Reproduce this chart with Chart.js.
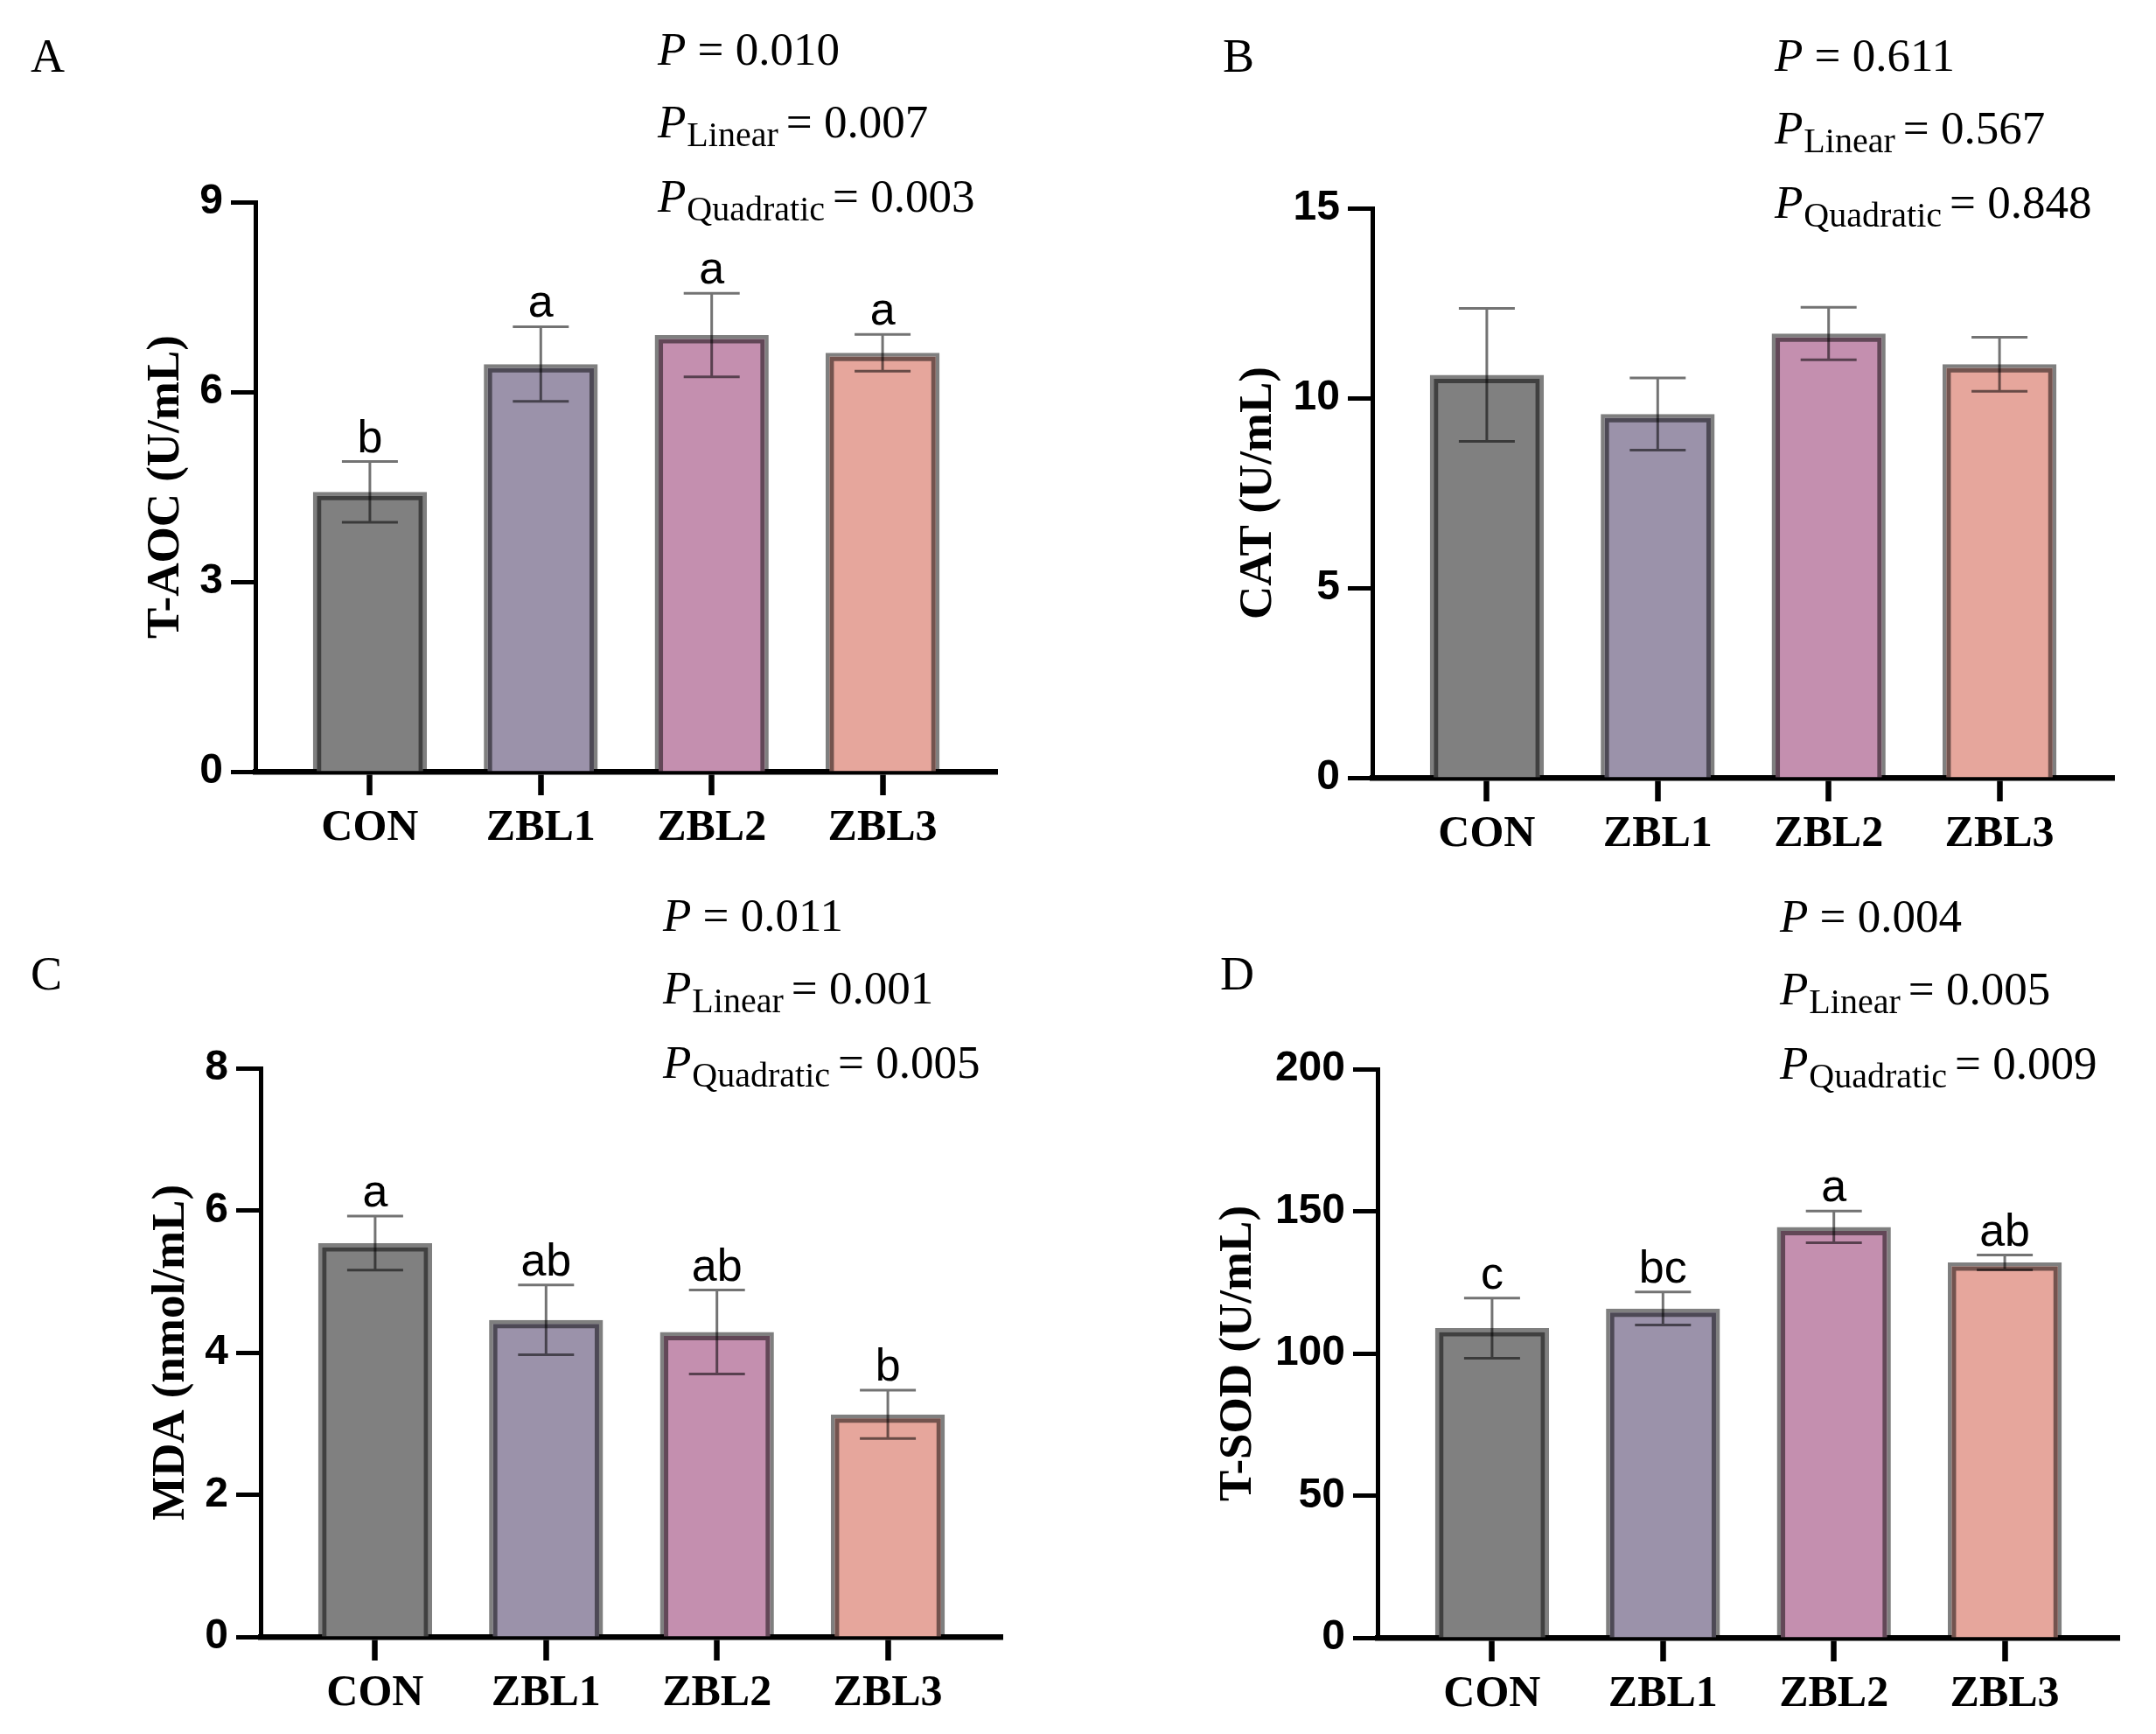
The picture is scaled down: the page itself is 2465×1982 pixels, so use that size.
<!DOCTYPE html>
<html>
<head>
<meta charset="utf-8">
<script src="https://cdn.jsdelivr.net/npm/chart.js@4.4.1/dist/chart.umd.min.js"></script>
<style>
  html, body { margin: 0; padding: 0; background: #fff; }
  #page { position: relative; width: 2465px; height: 1982px; overflow: hidden; background: #fff; }
  #page canvas { position: absolute; }
</style>
</head>
<body>
<div id="page">
  <canvas id="panelA" width="1232" height="991" style="left:0;top:0"></canvas>
  <canvas id="panelB" width="1233" height="991" style="left:1232px;top:0"></canvas>
  <canvas id="panelC" width="1232" height="991" style="left:0;top:991px"></canvas>
  <canvas id="panelD" width="1233" height="991" style="left:1232px;top:991px"></canvas>
</div>
<script>
// groups and bar fills
const groups = ['CON', 'ZBL1', 'ZBL2', 'ZBL3'];
const barColors = ['#808080', '#9b92aa', '#c48faf', '#e6a69c'];

// A - T-AOC
const tAoc = [4.42, 6.44, 6.90, 6.62];
const tAocSem = [0.48, 0.59, 0.66, 0.29];
const tAocLetters = ['b', 'a', 'a', 'a'];

// B - CAT
const cat = [10.61, 9.58, 11.70, 10.89];
const catSem = [1.75, 0.95, 0.69, 0.71];
const catLetters = ['', '', '', ''];

// C - MDA
const mda = [5.54, 4.46, 4.29, 3.13];
const mdaSem = [0.38, 0.49, 0.59, 0.34];
const mdaLetters = ['a', 'ab', 'ab', 'b'];

// D - T-SOD
const tSod = [108.9, 115.8, 144.5, 132.0];
const tSodSem = [10.6, 5.8, 5.6, 2.6];
const tSodLetters = ['c', 'bc', 'a', 'ab'];

// P values, panels A..D
const pOverall = ['0.010', '0.611', '0.011', '0.004'];
const pLinear = ['0.007', '0.567', '0.001', '0.005'];
const pQuadratic = ['0.003', '0.848', '0.005', '0.009'];

// y axes
const yTitles = ['T-AOC (U/mL)', 'CAT (U/mL)', 'MDA (nmol/mL)', 'T-SOD (U/mL)'];
const yMax = [9, 15, 8, 200];
const yStep = [3, 5, 2, 50];

const SERIF = '"Liberation Serif", "Times New Roman", serif';
const SANS = '"Liberation Sans", Arial, sans-serif';
const BAND = 'rgba(0,0,0,0.5)';

// inner dark edge of each bar, error bars, letters
const barDecor = {
  id: 'barDecor',
  afterDatasetsDraw(chart, args, opts) {
    const ctx = chart.ctx;
    const yScale = chart.scales.y;
    const meta = chart.getDatasetMeta(0);
    const values = chart.data.datasets[0].data;
    ctx.save();
    meta.data.forEach((bar, i) => {
      const {x, y, base, width} = bar.getProps(['x', 'y', 'base', 'width'], true);
      const l = x - width / 2, r = x + width / 2;
      const inset = 4.5 + 2.5;
      ctx.beginPath();
      ctx.moveTo(l + inset, base);
      ctx.lineTo(l + inset, y + inset);
      ctx.lineTo(r - inset, y + inset);
      ctx.lineTo(r - inset, base);
      ctx.lineWidth = 5;
      ctx.lineJoin = 'miter';
      ctx.strokeStyle = BAND;
      ctx.stroke();

      const v = values[i].y, e = opts.sem[i];
      const yHi = yScale.getPixelForValue(v + e);
      const yLo = yScale.getPixelForValue(v - e);
      ctx.beginPath();
      ctx.moveTo(x, yHi); ctx.lineTo(x, yLo);
      ctx.moveTo(x - 32, yHi); ctx.lineTo(x + 32, yHi);
      ctx.moveTo(x - 32, yLo); ctx.lineTo(x + 32, yLo);
      ctx.lineWidth = 3;
      ctx.lineCap = 'butt';
      ctx.strokeStyle = 'rgba(0,0,0,0.55)';
      ctx.stroke();

      if (opts.letters[i]) {
        ctx.fillStyle = '#000';
        ctx.font = `52px ${SANS}`;
        ctx.textAlign = 'center';
        ctx.textBaseline = 'alphabetic';
        ctx.fillText(opts.letters[i], x, yHi - 11);
      }
    });
    ctx.restore();
  }
};

// panel tag and the P value block
const panelText = {
  id: 'panelText',
  afterDraw(chart, args, opts) {
    const ctx = chart.ctx;
    const a = chart.chartArea;
    ctx.save();
    ctx.fillStyle = '#000';
    ctx.textAlign = 'left';
    ctx.textBaseline = 'alphabetic';
    ctx.font = `54px ${SERIF}`;
    ctx.fillText(opts.tag, opts.tagX, opts.tagY);

    const lines = [['', opts.p], ['Linear', opts.pLin], ['Quadratic', opts.pQuad]];
    const offs = [-157, -74, 11];
    lines.forEach(([sub, val], k) => {
      const yb = a.top + offs[k];
      let x = a.left + 460;
      ctx.font = `italic 53px ${SERIF}`;
      ctx.fillText('P', x, yb);
      x += ctx.measureText('P').width;
      if (sub) {
        ctx.font = `40px ${SERIF}`;
        ctx.fillText(sub, x + 1, yb + 10);
        x += ctx.measureText(sub).width + 10;
        ctx.font = `53px ${SERIF}`;
        ctx.fillText('= ' + val, x, yb);
      } else {
        ctx.font = `53px ${SERIF}`;
        ctx.fillText(' = ' + val, x, yb);
      }
    });
    ctx.restore();
  }
};

const panels = [
  {id: 'panelA', tag: 'A', values: tAoc, sem: tAocSem, letters: tAocLetters,
   area: {left: 292, top: 231, right: 1140, bottom: 882}, titleX: 190, tagX: 35, tagY: 82},
  {id: 'panelB', tag: 'B', values: cat, sem: catSem, letters: catLetters,
   area: {left: 337, top: 238, right: 1185, bottom: 889}, titleX: 207, tagX: 166, tagY: 82},
  {id: 'panelC', tag: 'C', values: mda, sem: mdaSem, letters: mdaLetters,
   area: {left: 298, top: 230, right: 1146, bottom: 880}, titleX: 196, tagX: 35, tagY: 140},
  {id: 'panelD', tag: 'D', values: tSod, sem: tSodSem, letters: tSodLetters,
   area: {left: 343, top: 231, right: 1191, bottom: 881}, titleX: 184, tagX: 163, tagY: 140}
];

panels.forEach((p, k) => {
  const canvas = document.getElementById(p.id);
  const W = canvas.width, H = canvas.height;
  const padLeft = p.titleX - 53 * 1.2 / 2;
  const xHeight = 100;

  new Chart(canvas, {
    type: 'bar',
    data: {
      datasets: [{
        data: p.values.map((v, i) => ({x: i, y: v})),
        backgroundColor: barColors,
        borderColor: BAND,
        borderWidth: 4.5,
        borderSkipped: 'start',
        barPercentage: 0.667,
        categoryPercentage: 1
      }]
    },
    options: {
      responsive: false,
      devicePixelRatio: 1,
      animation: false,
      events: [],
      layout: {
        padding: {left: padLeft, top: p.area.top, right: W - p.area.right, bottom: H - p.area.bottom - xHeight}
      },
      plugins: {
        legend: {display: false},
        tooltip: {enabled: false},
        barDecor: {sem: p.sem, letters: p.letters},
        panelText: {tag: p.tag, tagX: p.tagX, tagY: p.tagY, p: pOverall[k], pLin: pLinear[k], pQuad: pQuadratic[k]}
      },
      scales: {
        x: {
          type: 'linear',
          min: -0.67,
          max: 3.67,
          bounds: 'data',
          offset: false,
          z: 1,
          afterBuildTicks: s => { s.ticks = groups.map((g, i) => ({value: i})); },
          afterFit: s => { s.height = xHeight; },
          border: {display: true, color: '#000', width: 6.5},
          grid: {display: true, offset: false, drawOnChartArea: false, drawTicks: true,
                 tickLength: 27, tickWidth: 6.5, tickColor: '#000'},
          ticks: {
            callback: v => groups[v],
            color: '#000',
            font: {family: SERIF, size: 50, weight: 'bold'},
            padding: 8,
            maxRotation: 0,
            autoSkip: false
          }
        },
        y: {
          min: 0,
          max: yMax[k],
          z: 1,
          afterFit: s => { s.width = p.area.left - padLeft; },
          border: {display: true, color: '#000', width: 5},
          grid: {display: true, drawOnChartArea: false, drawTicks: true,
                 tickLength: 28, tickWidth: 5, tickColor: '#000'},
          ticks: {
            stepSize: yStep[k],
            color: '#000',
            font: {family: SANS, size: 48, weight: 'bold'},
            padding: 9
          },
          title: {
            display: true,
            text: yTitles[k],
            color: '#000',
            font: {family: SERIF, size: 53, weight: 'bold'},
            padding: 0
          }
        }
      }
    },
    plugins: [barDecor, panelText]
  });
});
</script>
</body>
</html>
